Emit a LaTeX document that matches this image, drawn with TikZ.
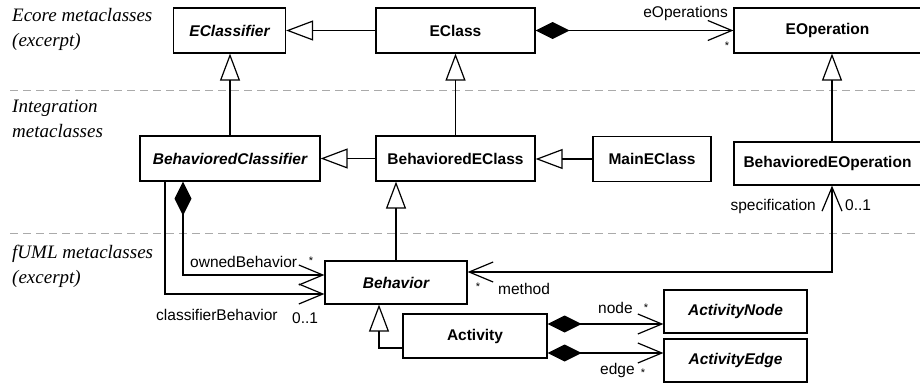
\documentclass[tikz,border=0pt]{standalone}
\usepackage{fontspec}
\setmainfont{Liberation Sans}
\newfontfamily\notefont{Liberation Serif}
\usetikzlibrary{arrows.meta}
\definecolor{sepgray}{RGB}{170,170,170}
\tikzstyle{cls} = [draw, line width=1.2pt, rectangle, inner sep=0pt, minimum height=45pt, font=\fontsize{15.5}{18}\selectfont\bfseries]

\begin{document}
\begin{tikzpicture}[x=1pt,y=-1pt,
			abstract/.style={cls, font=\fontsize{15.5}{18}\selectfont\bfseries\itshape},
			inh/.style={line width=1.2pt, -{Triangle[open, length=27pt, width=20pt]}},
			assoc/.style={line width=1.2pt, -{Straight Barb[length=24pt, width=20pt]}},
			biassoc/.style={line width=1.2pt, {Straight Barb[length=24pt, width=20pt]}-{Straight Barb[length=24pt, width=20pt]}},
			comp/.style={line width=1.2pt, {Diamond[length=34pt, width=17pt]}-{Straight Barb[length=24pt, width=20pt]}},
			lbl/.style={inner sep=0pt, font=\fontsize{15.5}{18}\selectfont},
			mult/.style={inner sep=0pt, font=\fontsize{11}{13}\selectfont},
			note/.style={inner sep=0pt, align=left, font=\notefont\itshape\fontsize{19}{25}\selectfont},
			sep/.style={sepgray, line width=1pt, dash pattern=on 8pt off 5pt}]
			\useasboundingbox (0,0) rectangle (920,383);
			\draw[sep] (10,90) -- (920,90);
			\draw[sep] (10,233) -- (920,233);
			\node[note, anchor=north west] (n-ecore) at (12,8) {Ecore metaclasses\\(excerpt)};
			\node[note, anchor=north west] (n-integ) at (12,100) {Integration\\metaclasses};
			\node[note, anchor=north west] (n-fuml) at (12,245) {fUML metaclasses\\(excerpt)};
			\node[abstract, minimum width=112pt] (eclassifier) at (229.5,30.5) {EClassifier};
			\node[cls, minimum width=159pt] (eclass) at (455.5,30.5) {EClass};
			\node[cls, minimum width=187pt] (eop) at (827.5,30.5) {EOperation};
			\node[abstract, minimum width=180pt] (bclassifier) at (230,158.5) {BehavioredClassifier};
			\node[cls, minimum width=159pt] (beclass) at (455.5,158.5) {BehavioredEClass};
			\node[cls, minimum width=118pt] (maineclass) at (652,159) {MainEClass};
			\node[cls, minimum width=187pt, minimum height=43pt] (beop) at (827.5,163.5) {BehavioredEOperation};
			\node[abstract, minimum width=142pt, minimum height=43pt] (behavior) at (396,282.5) {Behavior};
			\node[cls, minimum width=144pt, minimum height=44pt] (activity) at (475,336) {Activity};
			\node[abstract, minimum width=143pt, minimum height=43pt] (actnode) at (735.5,311.5) {ActivityNode};
			\node[abstract, minimum width=143pt, minimum height=43pt] (actedge) at (735.5,360.5) {ActivityEdge};
			\draw[inh] (eclass) -- (eclassifier);
			\draw[inh] (bclassifier.north) -- (bclassifier.north |- eclassifier.south);
			\draw[inh] (beclass) -- (eclass);
			\draw[inh] (beclass) -- (bclassifier);
			\draw[inh] (maineclass.west) -- (maineclass.west -| beclass.east);
			\draw[inh] ([xshift=4.5pt]beop.north) -- ([xshift=4.5pt]eop.south);
			\draw[inh] (behavior.north) -- (behavior.north |- beclass.south);
			\draw[inh] ([yshift=-12pt]activity.west) -| ([xshift=-17pt]behavior.south);
			\draw[comp] (eclass) -- (eop);
			\draw[comp] ([xshift=-47pt]bclassifier.south) |- ([yshift=7.5pt]behavior.west);
			\draw[assoc] ([xshift=-65pt]bclassifier.south) |- ([yshift=-11.5pt]behavior.west);
			\draw[biassoc] ([xshift=4.5pt]beop.south) |- ([yshift=10.5pt]behavior.east);
			\draw[comp] ([yshift=12pt]activity.east) -- ([yshift=12pt]activity.east -| actnode.west);
			\draw[comp] ([yshift=-17pt]activity.east) -- ([yshift=-17pt]activity.east -| actedge.west);
			\node[lbl, anchor=base east] (l-eops) at (728,17.5) {eOperations};
			\node[mult, anchor=north] (m-eops) at (727,42) {*};
			\node[lbl, anchor=base east] (l-spec) at (816,210) {specification};
			\node[lbl, anchor=base west] (m-spec) at (845,210) {0..1};
			\node[lbl, anchor=base west] (l-owned) at (190,267) {ownedBehavior};
			\node[mult, anchor=north] (m-owned) at (311,257) {*};
			\node[lbl, anchor=base west] (l-cbeh) at (156,320) {classifierBehavior};
			\node[lbl, anchor=base west] (m-cbeh) at (292,323) {0..1};
			\node[mult, anchor=north] (m-method) at (478,283) {*};
			\node[lbl, anchor=base west] (l-method) at (498,294) {method};
			\node[lbl, anchor=base west] (l-node) at (598,313) {node};
			\node[mult, anchor=north] (m-node) at (646,304) {*};
			\node[lbl, anchor=base west] (l-edge) at (600,374) {edge};
			\node[mult, anchor=north] (m-edge) at (643,369) {*};
\end{tikzpicture}
\end{document}
